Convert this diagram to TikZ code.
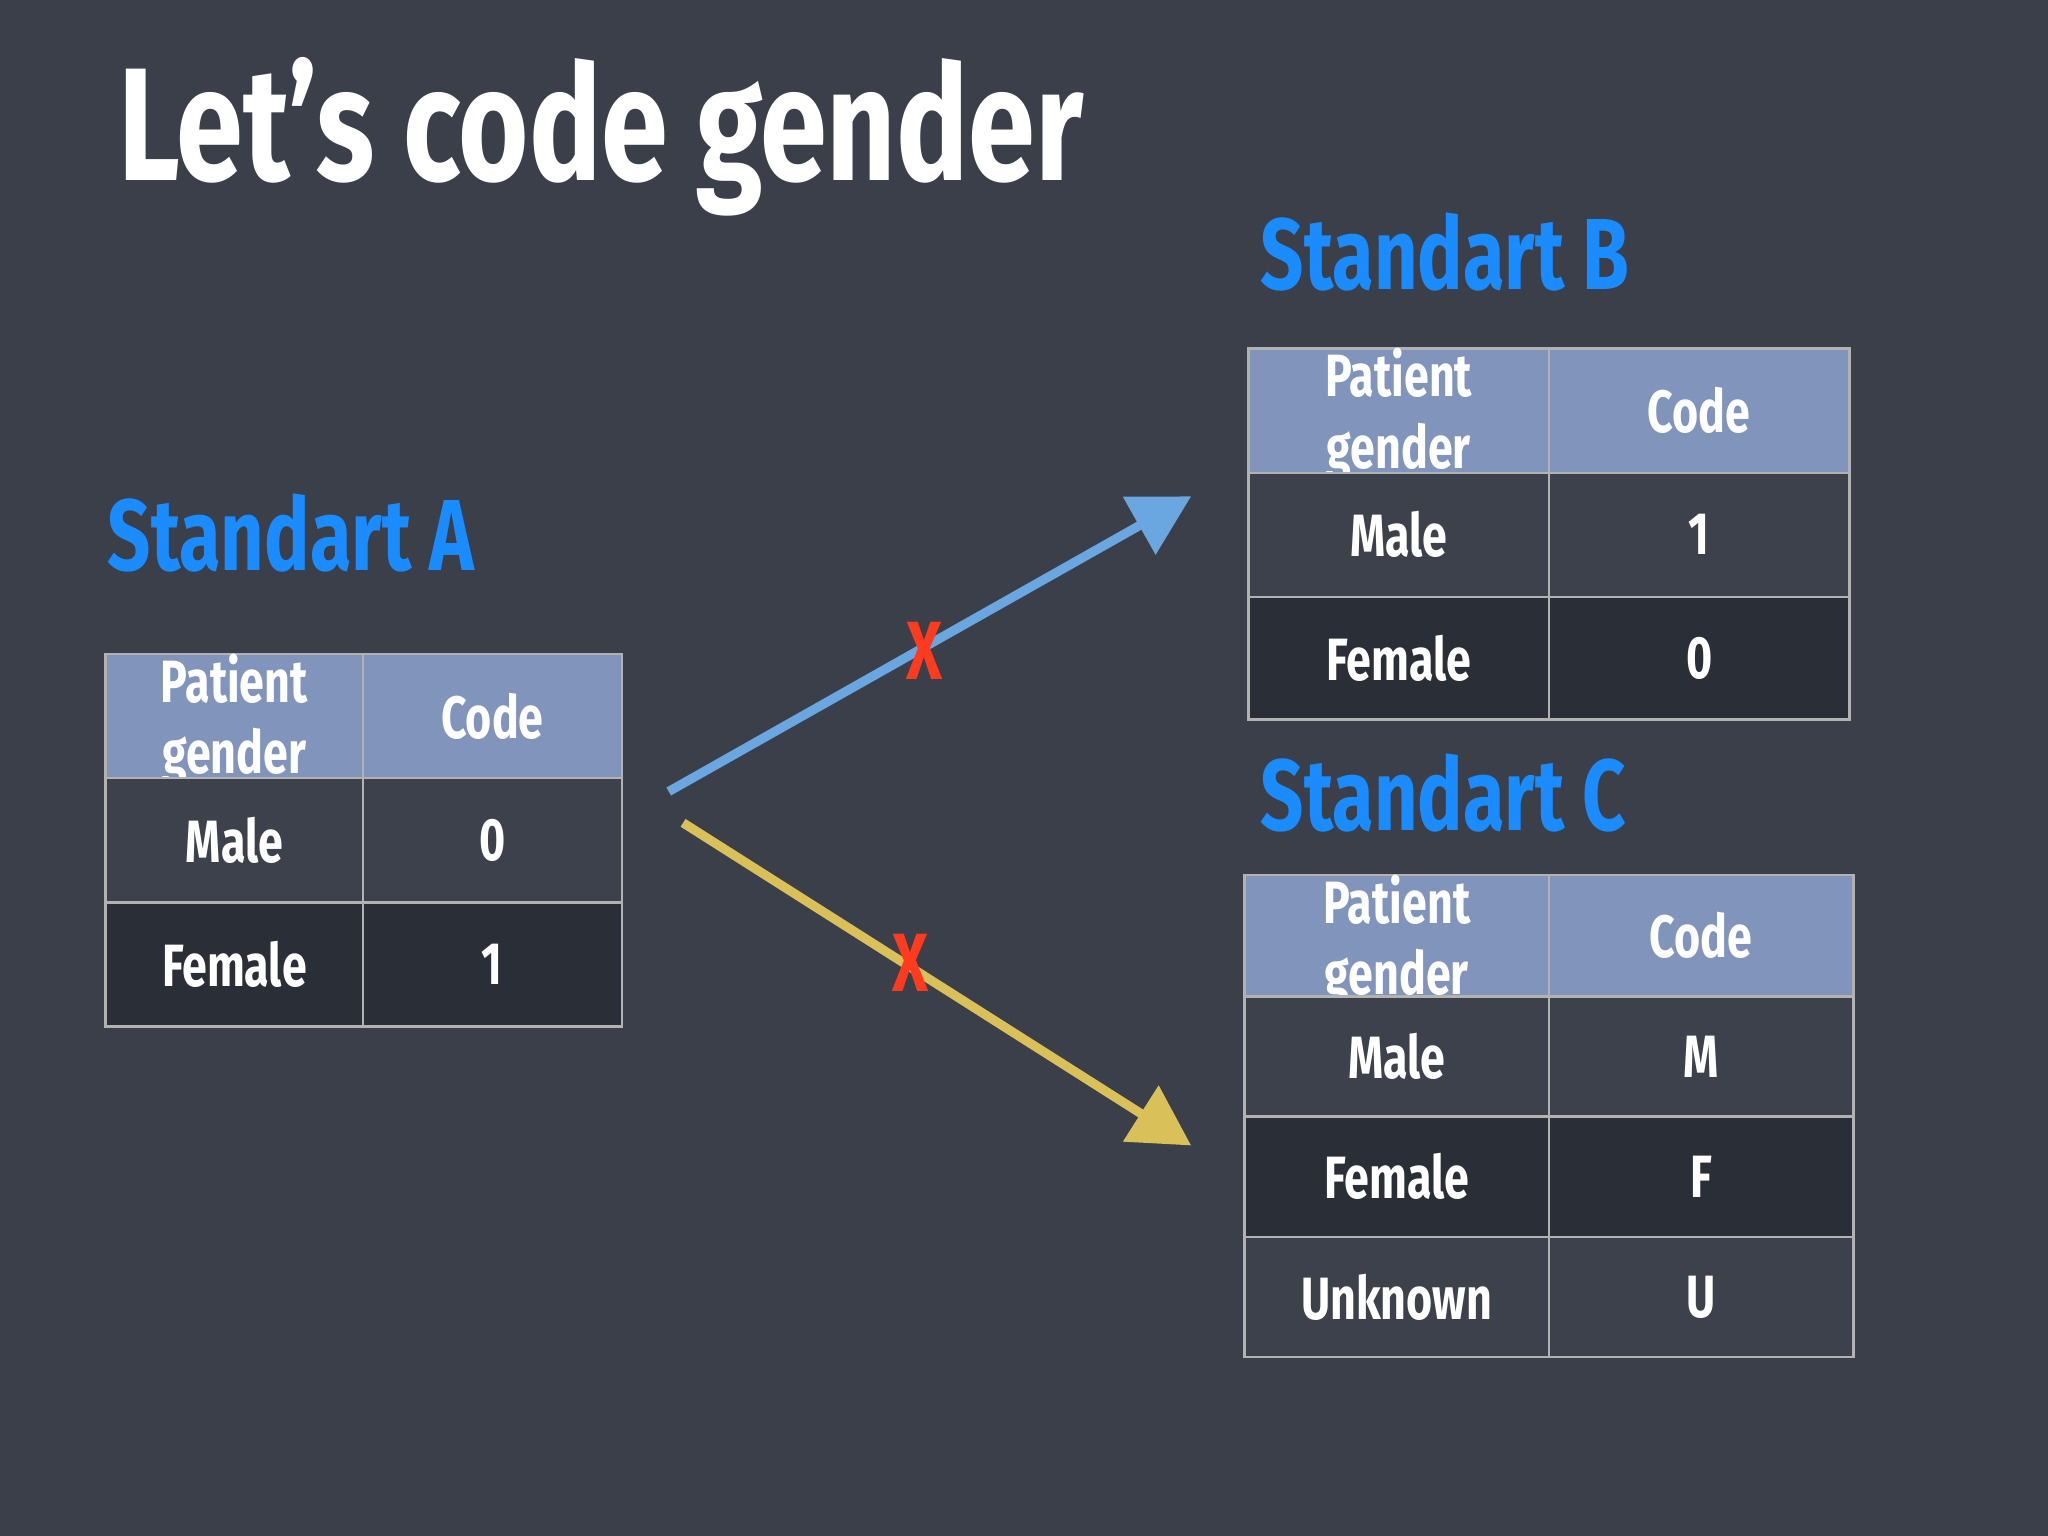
\documentclass[tikz,border=0pt]{standalone}
\usepackage{fontspec}
\setmainfont[FakeStretch=0.75]{Fira Sans}
\usetikzlibrary{arrows.meta}
\definecolor{bg}{HTML}{3A3F4A}
\definecolor{hdr}{HTML}{8195BC}
\definecolor{rowa}{HTML}{3C414C}
\definecolor{rowb}{HTML}{2A2E37}
\definecolor{sblue}{HTML}{1A8CFF}
\definecolor{abl}{HTML}{6AA6E0}
\definecolor{ayl}{HTML}{D9C058}
\definecolor{xred}{HTML}{FF3B1F}
\tikzset{
 cell/.style={draw=gray!60, line width=0.5pt, anchor=north west, inner sep=0pt, align=center, text=white, font=\fontsize{13}{15.5}\selectfont\bfseries},
 stdlabel/.style={text=sblue, font=\fontsize{22}{24}\selectfont\bfseries, anchor=west},
 arr/.style={line width=2pt, -{Triangle[length=13pt,width=14pt]}},
 xmark/.style={text=xred, font=\fontsize{18}{18}\selectfont\bfseries}
}
\begin{document}
\begin{tikzpicture}[x=0.01cm,y=-0.01cm]
\fill[bg] (0,0) rectangle (1568,1176);
\useasboundingbox (0,0) rectangle (1568,1176);
\node[text=white, font=\fontsize{35}{38}\selectfont\bfseries, anchor=west] (title) at (78,105) {Let’s code gender};
% Standart A
\node[stdlabel] (la) at (70,408) {Standart A};
\node[cell, fill=hdr, text width=1.97cm, minimum height=0.95cm] (a11) at (80,500) {Patient\\gender};
\node[cell, fill=hdr, minimum width=1.98cm, minimum height=0.95cm] (a12) at (277,500) {Code};
\node[cell, fill=rowa, minimum width=1.97cm, minimum height=0.95cm] (a21) at (80,595) {Male};
\node[cell, fill=rowa, minimum width=1.98cm, minimum height=0.95cm] (a22) at (277,595) {0};
\node[cell, fill=rowb, minimum width=1.97cm, minimum height=0.95cm] (a31) at (80,690) {Female};
\node[cell, fill=rowb, minimum width=1.98cm, minimum height=0.95cm] (a32) at (277,690) {1};
% Standart B
\node[stdlabel] (lb) at (953,193) {Standart B};
\node[cell, fill=hdr, text width=2.3cm, minimum height=0.95cm] (b11) at (955,266) {Patient\\gender};
\node[cell, fill=hdr, minimum width=2.3cm, minimum height=0.95cm] (b12) at (1185,266) {Code};
\node[cell, fill=rowa, minimum width=2.3cm, minimum height=0.95cm] (b21) at (955,361) {Male};
\node[cell, fill=rowa, minimum width=2.3cm, minimum height=0.95cm] (b22) at (1185,361) {1};
\node[cell, fill=rowb, minimum width=2.3cm, minimum height=0.94cm] (b31) at (955,456) {Female};
\node[cell, fill=rowb, minimum width=2.3cm, minimum height=0.94cm] (b32) at (1185,456) {0};
% Standart C
\node[stdlabel] (lc) at (953,607) {Standart C};
\node[cell, fill=hdr, text width=2.33cm, minimum height=0.93cm] (c11) at (952,669) {Patient\\gender};
\node[cell, fill=hdr, minimum width=2.33cm, minimum height=0.93cm] (c12) at (1185,669) {Code};
\node[cell, fill=rowa, minimum width=2.33cm, minimum height=0.92cm] (c21) at (952,762) {Male};
\node[cell, fill=rowa, minimum width=2.33cm, minimum height=0.92cm] (c22) at (1185,762) {M};
\node[cell, fill=rowb, minimum width=2.33cm, minimum height=0.92cm] (c31) at (952,854) {Female};
\node[cell, fill=rowb, minimum width=2.33cm, minimum height=0.92cm] (c32) at (1185,854) {F};
\node[cell, fill=rowa, minimum width=2.33cm, minimum height=0.92cm] (c41) at (952,946) {Unknown};
\node[cell, fill=rowa, minimum width=2.33cm, minimum height=0.92cm] (c42) at (1185,946) {U};
% arrows
\coordinate (s1) at (512,606); \coordinate (e1) at (912,380);
\coordinate (s2) at (523,630); \coordinate (e2) at (912,877);
\draw[arr, abl] (s1) -- (e1);
\draw[arr, ayl] (s2) -- (e2);
\node[xmark] (x1) at (708,498) {X};
\node[xmark] (x2) at (697,737) {X};
\end{tikzpicture}
\end{document}
